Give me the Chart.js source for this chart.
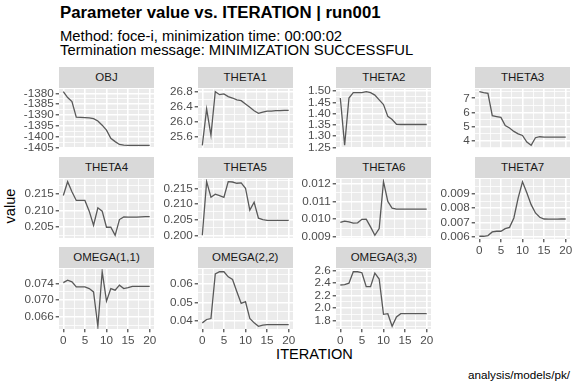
<!DOCTYPE html>
<html>
<head>
<meta charset="utf-8">
<script src="https://cdn.jsdelivr.net/npm/chart.js@4.4.1/dist/chart.umd.min.js"></script>
<style>
  body { margin: 0; background: #fff; font-family: "Liberation Sans", Arial, sans-serif; }
  #page { position: relative; width: 576px; height: 384px; overflow: hidden; }
  .txt { position: absolute; white-space: nowrap; line-height: 1; color: #000; }
  .strip { position: absolute; background: #D9D9D9; color: #1A1A1A; font-size: 11.5px; text-align: center; line-height: 21px; height: 21px; }
  canvas { position: absolute; }
</style>
</head>
<body>
<div id="page">
  <div class="txt" style="left:60px;top:4.6px;font-size:16.8px;font-weight:bold">Parameter value vs. ITERATION | run001</div>
  <div class="txt" style="left:60px;top:29.4px;font-size:14.8px">Method: foce-i, minimization time: 00:00:02</div>
  <div class="txt" style="left:60px;top:42.8px;font-size:14.8px">Termination message: MINIMIZATION SUCCESSFUL</div>
  <div class="txt" style="left:314.5px;top:346.6px;font-size:14.6px;transform:translateX(-50%)">ITERATION</div>
  <div class="txt" style="left:10px;top:206px;font-size:14.6px;transform:translate(-50%,-50%) rotate(-90deg)">value</div>
  <div class="txt" style="right:6px;top:369.1px;font-size:11.7px">analysis/models/pk/</div>
</div>
<script>
const iteration = [0, 1, 2, 3, 4, 5, 6, 7, 8, 9, 10, 11, 12, 13, 14, 15, 16, 17, 18, 19, 20];

const panelNames = ["OBJ", "THETA1", "THETA2", "THETA3", "THETA4", "THETA5", "THETA6", "THETA7", "OMEGA(1,1)", "OMEGA(2,2)", "OMEGA(3,3)"];

const objValues = [-1379.25, -1381.96, -1383.77, -1391.0, -1391.1, -1391.2, -1391.3, -1391.7, -1392.8, -1394.7, -1397.0, -1400.8, -1402.3, -1403.6, -1403.9, -1404.0, -1404.0, -1404.0, -1404.0, -1404.0, -1404.0];
const theta1Values = [25.36, 26.34, 25.63, 26.8, 26.72, 26.74, 26.67, 26.63, 26.58, 26.56, 26.47, 26.38, 26.29, 26.22, 26.25, 26.28, 26.28, 26.29, 26.29, 26.3, 26.3];
const theta2Values = [1.469, 1.26, 1.469, 1.493, 1.493, 1.493, 1.497, 1.493, 1.482, 1.461, 1.44, 1.388, 1.374, 1.353, 1.352, 1.352, 1.352, 1.352, 1.352, 1.352, 1.352];
const theta3Values = [7.47, 7.4, 7.35, 5.76, 5.7, 5.64, 5.06, 4.88, 4.64, 4.47, 4.35, 3.88, 3.65, 4.19, 4.26, 4.23, 4.23, 4.23, 4.23, 4.23, 4.23];
const theta4Values = [0.2145, 0.2186, 0.2156, 0.213, 0.213, 0.213, 0.2098, 0.2056, 0.2108, 0.2098, 0.205, 0.205, 0.2026, 0.2073, 0.2081, 0.208, 0.208, 0.208, 0.2081, 0.2082, 0.2082];
const theta5Values = [0.2, 0.2172, 0.2122, 0.2132, 0.2127, 0.2122, 0.2172, 0.2171, 0.2167, 0.2168, 0.2151, 0.2081, 0.2106, 0.2055, 0.205, 0.2048, 0.2048, 0.2048, 0.2048, 0.2048, 0.2048];
const theta6Values = [0.00982, 0.0099, 0.00986, 0.00978, 0.0098, 0.01, 0.01001, 0.00957, 0.0091, 0.00948, 0.01211, 0.011, 0.01062, 0.01057, 0.01057, 0.01057, 0.01057, 0.01057, 0.01057, 0.01057, 0.01057];
const theta7Values = [0.00605, 0.00605, 0.0061, 0.00635, 0.0064, 0.0064, 0.00658, 0.00667, 0.00732, 0.00872, 0.00984, 0.00907, 0.00825, 0.00767, 0.00737, 0.00725, 0.00724, 0.00724, 0.00724, 0.00725, 0.00725];
const omega11Values = [0.0742, 0.0748, 0.0744, 0.0732, 0.0732, 0.0732, 0.0728, 0.072, 0.0638, 0.0768, 0.0698, 0.0728, 0.0724, 0.0736, 0.0728, 0.073, 0.0733, 0.0733, 0.0733, 0.0733, 0.0733];
const omega22Values = [0.0391, 0.0409, 0.0414, 0.065, 0.0662, 0.0662, 0.0635, 0.0621, 0.0556, 0.0494, 0.0503, 0.0414, 0.0391, 0.0373, 0.0379, 0.0382, 0.0382, 0.0382, 0.0382, 0.0382, 0.0382];
const omega33Values = [2.37, 2.376, 2.4, 2.584, 2.584, 2.568, 2.344, 2.344, 2.563, 2.467, 1.896, 1.907, 1.704, 1.853, 1.907, 1.907, 1.907, 1.907, 1.907, 1.907, 1.907];

// y tick labels per panel
const objTicks = ["-1405", "-1400", "-1395", "-1390", "-1385", "-1380"];
const theta1Ticks = ["25.6", "26.0", "26.4", "26.8"];
const theta2Ticks = ["1.25", "1.30", "1.35", "1.40", "1.45", "1.50"];
const theta3Ticks = ["4", "5", "6", "7"];
const theta4Ticks = ["0.205", "0.210", "0.215"];
const theta5Ticks = ["0.200", "0.205", "0.210", "0.215"];
const theta6Ticks = ["0.009", "0.010", "0.011", "0.012"];
const theta7Ticks = ["0.006", "0.007", "0.008", "0.009"];
const omega11Ticks = ["0.066", "0.070", "0.074"];
const omega22Ticks = ["0.04", "0.05", "0.06"];
const omega33Ticks = ["1.8", "2.0", "2.2", "2.4", "2.6"];
const xTicks = ["0", "5", "10", "15", "20"];

const panelValues = [objValues, theta1Values, theta2Values, theta3Values, theta4Values, theta5Values, theta6Values, theta7Values, omega11Values, omega22Values, omega33Values];
const panelTicks = [objTicks, theta1Ticks, theta2Ticks, theta3Ticks, theta4Ticks, theta5Ticks, theta6Ticks, theta7Ticks, omega11Ticks, omega22Ticks, omega33Ticks];

Chart.defaults.font.family = '"Liberation Sans", Arial, sans-serif';

const page = document.getElementById("page");

// grey panel background
const panelBg = {
  id: "panelBg",
  beforeDraw: (chart) => {
    const a = chart.chartArea;
    chart.ctx.save();
    chart.ctx.fillStyle = "#EBEBEB";
    chart.ctx.fillRect(a.left, a.top, a.right - a.left, a.bottom - a.top);
    chart.ctx.restore();
  },
};

// major breaks + ggplot-like minor breaks
const buildTicks = (labels, min, max) => {
  const majors = labels.map(Number);
  const step = majors[1] - majors[0];
  const ext = [majors[0] - step, ...majors, majors[majors.length - 1] + step];
  let ticks = [];
  majors.forEach((v, i) => {
    if (v >= min && v <= max) ticks.push({ value: v, text: labels[i] });
  });
  for (let i = 0; i < ext.length - 1; i++) {
    let m = (ext[i] + ext[i + 1]) / 2;
    if (m >= min && m <= max) ticks.push({ value: m, minor: true });
  }
  return ticks.sort((a, b) => a.value - b.value);
};

const gridOpts = (showTicks) => ({
  color: "#FFFFFF",
  lineWidth: (ctx) => (ctx.tick && ctx.tick.minor ? 0.8 : 1.6),
  drawTicks: showTicks,
  tickLength: 3.3,
  tickWidth: 1.1,
  tickColor: (ctx) => (ctx.tick && ctx.tick.minor ? "rgba(0,0,0,0)" : "#333333"),
});

const PW = 95, PH = 61, YW = 40;

const makePanel = (name, values, tickLabels, idx) => {
  let col = idx % 4,
    row = Math.floor(idx / 4);
  let bottom = idx + 4 >= panelNames.length;
  let left = 59 + col * 138.7,
    top = 87.5 + row * 90;

  let strip = document.createElement("div");
  strip.className = "strip";
  strip.style.left = left + "px";
  strip.style.top = top - 21 + "px";
  strip.style.width = PW + "px";
  strip.textContent = name;
  page.appendChild(strip);

  let canvas = document.createElement("canvas");
  canvas.width = YW + PW + 10;
  canvas.height = 8 + PH + (bottom ? 22 : 8);
  canvas.style.left = left - YW + "px";
  canvas.style.top = top - 8 + "px";
  page.appendChild(canvas);

  let lo = Math.min(...values),
    hi = Math.max(...values);
  let pad = (hi - lo) * 0.05;
  let ymin = lo - pad,
    ymax = hi + pad;

  new Chart(canvas, {
    type: "line",
    data: {
      datasets: [
        {
          data: values.map((v, i) => ({ x: iteration[i], y: v })),
          borderColor: "#595959",
          borderWidth: 1.3,
          pointRadius: 0,
          tension: 0,
          fill: false,
        },
      ],
    },
    options: {
      responsive: false,
      animation: false,
      layout: { padding: { top: 8, right: 10, bottom: bottom ? 0 : 8, left: 0 } },
      plugins: { legend: { display: false }, tooltip: { enabled: false } },
      scales: {
        x: {
          type: "linear",
          min: -1,
          max: 21,
          border: { display: false },
          grid: gridOpts(bottom),
          afterBuildTicks: (scale) => {
            scale.ticks = buildTicks(xTicks, -1, 21);
          },
          afterFit: (scale) => {
            scale.height = bottom ? 22 : 0;
          },
          ticks: {
            display: bottom,
            autoSkip: false,
            maxRotation: 0,
            padding: 1.5,
            color: "#4D4D4D",
            font: { size: 11.7 },
            callback: (value, index, ticks) => (ticks[index].minor ? "" : ticks[index].text),
          },
        },
        y: {
          type: "linear",
          min: ymin,
          max: ymax,
          border: { display: false },
          grid: gridOpts(true),
          afterBuildTicks: (scale) => {
            scale.ticks = buildTicks(tickLabels, ymin, ymax);
          },
          afterFit: (scale) => {
            scale.width = YW;
          },
          ticks: {
            autoSkip: false,
            padding: 2,
            color: "#4D4D4D",
            font: { size: 11.7 },
            callback: (value, index, ticks) => (ticks[index].minor ? "" : ticks[index].text),
          },
        },
      },
    },
    plugins: [panelBg],
  });
};

panelNames.forEach((name, i) => makePanel(name, panelValues[i], panelTicks[i], i));
</script>
</body>
</html>
